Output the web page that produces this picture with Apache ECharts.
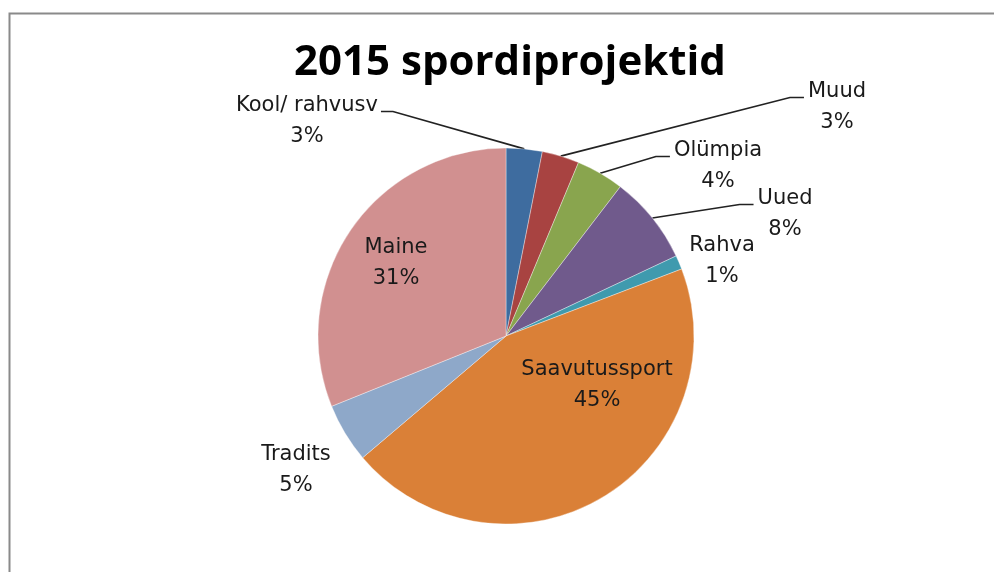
<!DOCTYPE html>
<html>
<head>
<meta charset="utf-8">
<script src="https://cdn.jsdelivr.net/npm/echarts@6/dist/echarts.min.js"></script>
<style>
  html, body { margin: 0; padding: 0; background: #fff; }
  #chart { width: 994px; height: 572px; }
</style>
</head>
<body>
<div id="chart"></div>
<script>
// slices, clockwise from 12 o'clock
const names = ["Kool/ rahvusv", "Muud", "Olümpia", "Uued", "Rahva", "Saavutussport", "Tradits", "Maine"];
const values = [3.1, 3.2, 4.1, 7.6, 1.2, 44.6, 5.1, 31.1];
const colors = ["#3e6c9f", "#a84341", "#89a54e", "#705a8c", "#3f9aae", "#da8037", "#8ea8c9", "#d19090"];
// labels that get a leader line
const guided = ["Kool/ rahvusv", "Muud", "Olümpia", "Uued"];

// label block centres (layout only)
const labelPos = [[307, 121], [837, 107], [718, 166], [785, 214], [722, 261], [597, 385], [296, 470], [396, 263]];

const chart = echarts.init(document.getElementById("chart"));

chart.setOption({
  backgroundColor: "#fff",
  animation: false,
  color: colors,
  title: {
    text: "2015 spordiprojektid",
    left: 505,
    top: 37,
    textAlign: "center",
    textStyle: { fontFamily: "Open Sans", fontWeight: "bold", fontSize: 42, color: "#000" }
  },
  graphic: [{
    type: "rect",
    shape: { x: 9.5, y: 13.5, width: 1200, height: 800 },
    style: { fill: "none", stroke: "#8a8a8a", lineWidth: 2 },
    silent: true
  }],
  series: [{
    type: "pie",
    center: [506, 336],
    radius: 188,
    startAngle: 90,
    clockwise: true,
    avoidLabelOverlap: false,
    percentPrecision: 0,
    itemStyle: { borderColor: "rgba(255,255,255,0.6)", borderWidth: 0.6 },
    label: {
      show: true,
      position: "outside",
      formatter: "{b}\n{d}%",
      fontFamily: "DejaVu Sans",
      fontSize: 21,
      lineHeight: 31,
      color: "#1a1a1a",
      align: "center"
    },
    labelLine: {
      length: 10,
      length2: 12,
      lineStyle: { color: "#222", width: 1.6 }
    },
    labelLayout(params) {
      const i = params.dataIndex;
      const [lx, ly] = labelPos[i];
      const out = { x: lx, y: ly, align: "center", verticalAlign: "middle" };
      const pts = params.labelLinePoints;
      if (guided.includes(names[i]) && pts) {
        const w = params.labelRect.width;
        const h = params.labelRect.height;
        const lineY = ly - h / 4 + 6;
        const onLeft = lx < 506;
        const endX = onLeft ? lx + w / 2 + 3 : lx - w / 2 - 4;
        const midX = onLeft ? endX + 12 : endX - 14;
        out.labelLinePoints = [pts[0], [midX, lineY], [endX, lineY]];
      }
      return out;
    },
    data: names.map((name, i) => ({
      name,
      value: values[i],
      labelLine: { show: guided.includes(name) }
    }))
  }]
});
</script>
</body>
</html>
